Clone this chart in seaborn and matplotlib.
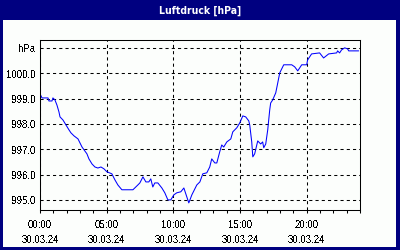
import matplotlib
matplotlib.use("Agg")
import matplotlib.pyplot as plt
from matplotlib.patches import Rectangle
from matplotlib.ticker import FixedLocator, MultipleLocator
import numpy as np
import pandas as pd
import seaborn as sns

# ---- data ----
hours = [0.00, 0.15, 0.60, 0.67, 0.90, 0.97, 1.12, 1.27, 1.42, 1.50, 1.72, 1.95,
         2.17, 2.32, 2.55, 2.85, 3.00, 3.15, 3.30, 3.52, 3.67, 3.90, 4.12, 4.34,
         4.57, 4.79, 5.02, 5.39, 5.62, 5.84, 6.14, 6.97, 7.34, 7.49, 7.72, 7.94,
         8.16, 8.31, 8.46, 8.61, 8.84, 9.14, 9.36, 9.59, 9.81, 10.04, 10.26, 10.56,
         10.79, 11.01, 11.16, 11.39, 11.76, 11.99, 12.21, 12.51, 12.73, 12.88, 13.11,
         13.26, 13.48, 13.63, 13.78, 14.01, 14.31, 14.46, 14.76, 14.98, 15.21, 15.43,
         15.66, 15.73, 15.88, 15.96, 16.10, 16.33, 16.55, 16.70, 16.78, 16.93, 17.08,
         17.23, 17.30, 17.45, 17.68, 17.83, 17.98, 18.28, 18.88, 19.10, 19.33, 19.63,
         20.00, 20.07, 20.37, 20.97, 21.27, 21.65, 22.25, 22.32, 22.47, 22.62, 22.85,
         23.07, 23.15, 23.90]
pressure = [999.19, 999.03, 999.03, 998.91, 998.91, 999.03, 998.95, 998.75, 998.48,
            998.28, 998.16, 997.96, 997.77, 997.65, 997.53, 997.41, 997.25, 997.09,
            996.98, 996.82, 996.62, 996.42, 996.30, 996.26, 996.30, 996.23, 996.11,
            996.03, 995.79, 995.59, 995.40, 995.40, 995.59, 995.67, 995.91, 995.71,
            995.71, 995.83, 995.51, 995.67, 995.67, 995.47, 995.28, 995.00, 995.00,
            995.20, 995.28, 995.32, 995.47, 995.12, 994.88, 995.20, 995.59, 995.71,
            996.03, 996.07, 996.30, 996.62, 996.46, 996.46, 996.90, 997.17, 997.09,
            997.29, 997.41, 997.69, 997.85, 998.04, 998.32, 998.28, 998.12, 997.96,
            997.29, 996.70, 996.82, 997.33, 997.21, 997.29, 997.06, 997.21, 997.77,
            998.56, 998.83, 998.95, 999.23, 999.62, 1000.02, 1000.34, 1000.34, 1000.26,
            1000.10, 1000.34, 1000.34, 1000.53, 1000.77, 1000.81, 1000.61, 1000.77,
            1000.81, 1000.89, 1000.81, 1000.93, 1001.01, 1000.97, 1000.89, 1000.89]
ytick_values = [995, 996, 997, 998, 999, 1000, 1001]
ytick_labels = ["995,0", "996,0", "997,0", "998,0", "999,0", "1000,0", "hPa"]
xtick_values = [0, 5, 10, 15, 20]
xtick_labels = ["00:00\n30.03.24", "05:00\n30.03.24", "10:00\n30.03.24",
                "15:00\n30.03.24", "20:00\n30.03.24"]
title = "Luftdruck [hPa]"

NAVY = "#000080"
BG = "#FCFEFC"

sns.set_style("white")
plt.rcParams["font.family"] = ["Liberation Sans", "DejaVu Sans"]
plt.rcParams["text.antialiased"] = False

fig = plt.figure(figsize=(4, 2.5), dpi=100, facecolor=BG)

# title bar
fig.patches.append(Rectangle((0, 230 / 250), 1, 20 / 250, transform=fig.transFigure,
                             facecolor=NAVY, edgecolor="none", zorder=0))
# outer border
fig.patches.append(Rectangle((0.002, 0.004), 0.994, 0.99, transform=fig.transFigure,
                             facecolor="none", edgecolor=NAVY, linewidth=1.5, zorder=1,
                             antialiased=False))
fig.text(0.5, 1 - 10.5 / 250, title, color="white", fontsize=7.5, fontweight="bold",
         ha="center", va="center", antialiased=True,
         family=["DejaVu Sans"], fontstretch="condensed")

ax = fig.add_axes([40 / 400, 1 - 210 / 250, 320 / 400, 170 / 250])
ax.set_facecolor(BG)

df = pd.DataFrame({"h": hours, "p": pressure})
sns.lineplot(data=df, x="h", y="p", ax=ax, color="#0000FF", linewidth=0.75,
             antialiased=True)

ax.set_xlim(0, 24)
ax.set_ylim(994.6, 1001.32)
ax.set_xlabel("")
ax.set_ylabel("")

ax.yaxis.set_major_locator(FixedLocator(ytick_values))
ax.set_yticklabels(ytick_labels)
ax.xaxis.set_major_locator(FixedLocator(xtick_values))
ax.set_xticklabels(xtick_labels, linespacing=1.6)
ax.xaxis.set_minor_locator(MultipleLocator(1))

ax.tick_params(axis="y", length=0, pad=3, labelsize=7, colors="black")
ax.tick_params(axis="x", which="both", direction="out", length=2.5, width=0.75,
               pad=5, labelsize=7, colors="black", bottom=True)

ax.grid(True, which="major", color="black", linestyle=(0, (3, 3)), linewidth=0.75)
for s in ax.spines.values():
    s.set_visible(True)
    s.set_color("black")
    s.set_linewidth(0.75)

fig.savefig("out.png", dpi=100, facecolor=BG)
